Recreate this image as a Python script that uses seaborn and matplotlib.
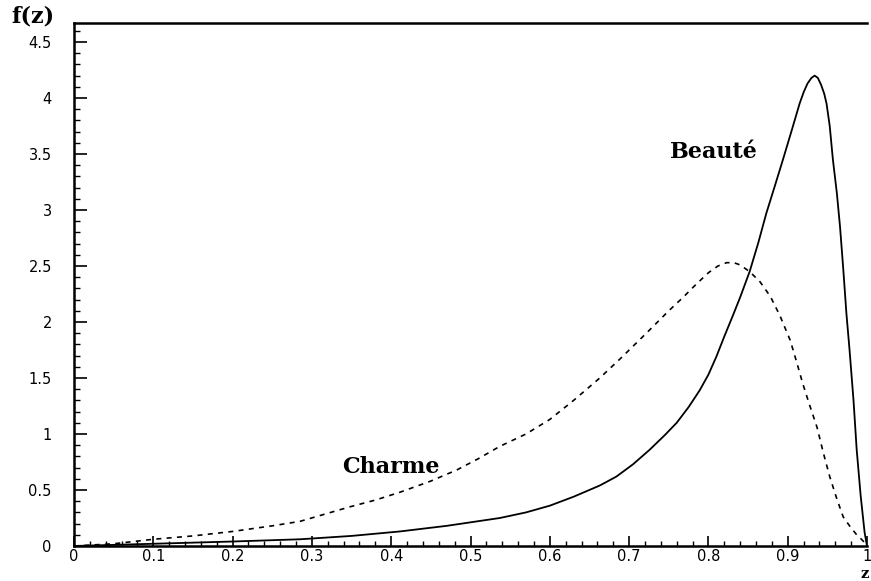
import matplotlib
matplotlib.use("Agg")
import matplotlib.pyplot as plt
import seaborn as sns
import pandas as pd
from matplotlib.ticker import MultipleLocator, FuncFormatter

# Data
charm_z = [0.0, 0.05, 0.10, 0.15, 0.20, 0.25, 0.285, 0.348, 0.38, 0.411, 0.45, 0.483, 0.51,
           0.537, 0.57, 0.60, 0.63, 0.663, 0.69, 0.726, 0.75, 0.768, 0.785, 0.80, 0.812,
           0.823, 0.832, 0.84, 0.852, 0.865, 0.878, 0.89, 0.903, 0.911, 0.919, 0.928,
           0.937, 0.945, 0.953, 0.962, 0.970, 0.979, 0.987, 0.993, 0.997, 1.0]
charm_f = [0.0, 0.02, 0.06, 0.09, 0.13, 0.18, 0.22, 0.35, 0.41, 0.48, 0.58, 0.68, 0.78,
           0.89, 1.00, 1.13, 1.30, 1.50, 1.68, 1.93, 2.10, 2.22, 2.34, 2.44, 2.50,
           2.53, 2.53, 2.51, 2.45, 2.36, 2.23, 2.06, 1.84, 1.65, 1.45, 1.25,
           1.06, 0.83, 0.62, 0.42, 0.26, 0.17, 0.10, 0.06, 0.03, 0.0]
beauty_z = [0.0, 0.10, 0.20, 0.285, 0.35, 0.411, 0.47, 0.537, 0.57, 0.60, 0.63, 0.663,
            0.684, 0.705, 0.726, 0.745, 0.76, 0.775, 0.789, 0.80, 0.81, 0.82, 0.831,
            0.84, 0.852, 0.863, 0.873, 0.884, 0.894, 0.905, 0.915, 0.920, 0.925, 0.930,
            0.934, 0.938, 0.942, 0.946, 0.949, 0.953, 0.957, 0.962, 0.966, 0.970, 0.974,
            0.978, 0.983, 0.987, 0.992, 0.997, 1.0]
beauty_f = [0.0, 0.02, 0.04, 0.06, 0.09, 0.13, 0.18, 0.25, 0.30, 0.36, 0.44, 0.54,
            0.62, 0.73, 0.86, 0.99, 1.10, 1.24, 1.39, 1.53, 1.69, 1.87, 2.06,
            2.22, 2.45, 2.71, 2.97, 3.22, 3.45, 3.71, 3.95, 4.05, 4.13, 4.18,
            4.20, 4.18, 4.12, 4.04, 3.95, 3.75, 3.45, 3.15, 2.85, 2.48, 2.08,
            1.75, 1.30, 0.86, 0.45, 0.12, 0.0]

x_ticks = [0, 0.1, 0.2, 0.3, 0.4, 0.5, 0.6, 0.7, 0.8, 0.9, 1]
y_ticks = [0, 0.5, 1, 1.5, 2, 2.5, 3, 3.5, 4, 4.5]

sns.set_style("ticks")
plt.rcParams['font.family'] = ['DejaVu Sans']
for k in ["text.color", "xtick.color", "ytick.color", "axes.labelcolor", "axes.edgecolor"]:
    plt.rcParams[k] = "black"

df_c = pd.DataFrame({"z": charm_z, "f": charm_f})
df_b = pd.DataFrame({"z": beauty_z, "f": beauty_f})

fig = plt.figure(figsize=(8.71, 5.81), dpi=100)
W, H = 871, 581
ax = fig.add_axes([74 / W, (H - 546) / H, 793 / W, (546 - 23) / H])

sns.lineplot(data=df_b, x="z", y="f", ax=ax, color="black", lw=1.3, sort=False, estimator=None)
sns.lineplot(data=df_c, x="z", y="f", ax=ax, color="black", lw=1.2, sort=False, estimator=None,
             linestyle=(0, (3, 3.2)))

ax.set_xlim(0, 1)
ax.set_ylim(0, 4.67)
ax.set_xlabel("")
ax.set_ylabel("")

ax.set_xticks(x_ticks)
ax.set_yticks(y_ticks)
fmt = FuncFormatter(lambda v, pos: f"{v:g}")
ax.xaxis.set_major_formatter(fmt)
ax.yaxis.set_major_formatter(fmt)
ax.xaxis.set_minor_locator(MultipleLocator(0.02))
ax.yaxis.set_minor_locator(MultipleLocator(0.1))

ax.tick_params(axis="x", which="major", direction="in", length=7, width=1.2, pad=2.5, labelsize=10.5)
ax.tick_params(axis="x", which="minor", direction="in", length=3.5, width=1.0)
ax.tick_params(axis="y", which="major", direction="in", length=9.5, width=1.2, pad=16, labelsize=10.5)
ax.tick_params(axis="y", which="minor", direction="in", length=4.5, width=1.0)
ax.xaxis.set_ticks_position("bottom")
ax.yaxis.set_ticks_position("left")

for side in ["left", "bottom", "top"]:
    ax.spines[side].set_linewidth(1.8)
    ax.spines[side].set_color("black")
ax.spines["right"].set_visible(False)

serif = dict(family=["DejaVu Serif"], fontweight="bold", fontsize=16, color="black")
ax.text(0.807, 3.52, "Beauté", ha="center", va="center", **serif)
ax.text(0.40, 0.705, "Charme", ha="center", va="center", **serif)
fig.text(33 / W, 1 - 17 / H, "f(z)", ha="center", va="center", **serif)
fig.text(869 / W, 0.5 / H, "z", ha="right", va="bottom",
         family=["DejaVu Serif"], fontweight="bold", fontsize=10.5, color="black")

fig.savefig("out.png", dpi=100)
